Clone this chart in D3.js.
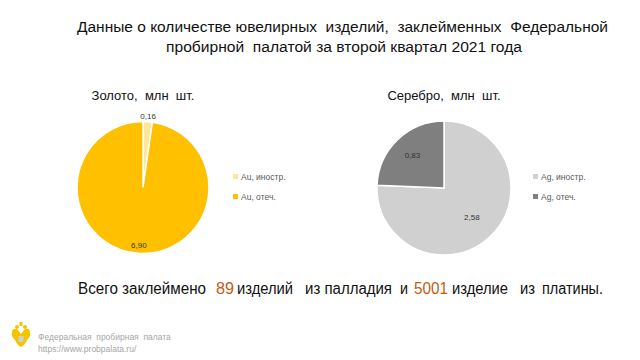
<!DOCTYPE html>
<html><head><meta charset="utf-8">
<script src="https://cdn.jsdelivr.net/npm/d3@7"></script>
<style>body{margin:0;background:#fff}svg{display:block}text{font-family:"Liberation Sans",Arial,sans-serif;white-space:pre}</style>
</head><body><svg id="c" width="640" height="360"></svg>
<script>
const titleLines = ["Данные о количестве ювелирных  изделий,  заклейменных  Федеральной", "пробирной  палатой за второй квартал 2021 года"];
const goldLabels = ["Au, иностр.", "Au, отеч."];
const goldValues = [0.16, 6.90];
const goldColors = ["#ffe699", "#ffc000"];
const silverLabels = ["Ag, иностр.", "Ag, отеч."];
const silverValues = [2.58, 0.83];
const silverColors = ["#d0d0d0", "#7f7f7f"];
const pieTitles = ["Золото,  млн  шт.", "Серебро,  млн  шт."];
const palladium = 89, platinum = 5001;
const summaryWords = ["Всего заклеймено", String(palladium), "изделий", "из палладия", "и", String(platinum), "изделие", "из", "платины."];

const svg = d3.select("#c");
svg.append("text").attr("x", 77).attr("y", 32).attr("font-size", 15.5).attr("fill", "#111")
  .attr("textLength", 531).attr("lengthAdjust", "spacingAndGlyphs").text(titleLines[0]);
svg.append("text").attr("x", 166).attr("y", 51.5).attr("font-size", 15.5).attr("fill", "#111")
  .attr("textLength", 356).attr("lengthAdjust", "spacingAndGlyphs").text(titleLines[1]);

const fmt = v => d3.format(".2f")(v).replace(".", ",");

function drawPie(cx, cy, r, values, colors, labels, title, labelPos, legendX) {
  svg.append("text").attr("x", cx).attr("y", 100).attr("text-anchor", "middle").attr("font-size", 13).attr("fill", "#111").text(title);
  const pie = d3.pie().sort(null)(values);
  const arc = d3.arc().innerRadius(0).outerRadius(r);
  const g = svg.append("g").attr("transform", `translate(${cx},${cy})`);
  g.selectAll("path").data(pie).join("path").attr("d", arc)
    .attr("fill", (d, i) => colors[i]).attr("stroke", "#fff").attr("stroke-width", 1.5);
  g.selectAll("text.v").data(pie).join("text").attr("class", "v")
    .attr("x", (d, i) => { const a = (d.startAngle + d.endAngle) / 2; return Math.sin(a) * r * labelPos[i]; })
    .attr("y", (d, i) => { const a = (d.startAngle + d.endAngle) / 2; return -Math.cos(a) * r * labelPos[i] + 3; })
    .attr("text-anchor", "middle").attr("font-size", 8).attr("fill", "#333").text(d => fmt(d.data));
  const lg = svg.append("g");
  labels.forEach((l, i) => {
    lg.append("rect").attr("x", legendX).attr("y", 174 + i * 20).attr("width", 5).attr("height", 5).attr("fill", colors[i]);
    lg.append("text").attr("x", legendX + 8).attr("y", 180 + i * 20).attr("font-size", 8.5).attr("fill", "#595959").text(l);
  });
}
drawPie(143, 187.5, 66, goldValues, goldColors, goldLabels, pieTitles[0], [1.08, 0.88], 233);
drawPie(444, 188, 67, silverValues, silverColors, silverLabels, pieTitles[1], [0.6, 0.68], 533);

// summary line: word groups placed along the reference line
const segX = [78, 216, 237, 305, 400, 414, 452, 520, 542];
const segW = [128, 18, 56, 87, 8, 34, 56, 15, 61];
const orange = new Set([1, 5]);
svg.append("g").selectAll("text").data(summaryWords).join("text")
  .attr("x", (d, i) => segX[i]).attr("y", 293.5).attr("font-size", 16)
  .attr("fill", (d, i) => orange.has(i) ? "#c55a11" : "#111")
  .attr("textLength", (d, i) => segW[i]).attr("lengthAdjust", "spacingAndGlyphs")
  .text(d => d);

// footer logo (stylized eagle)
const logo = svg.append("g").attr("transform", "translate(21,337)").attr("fill", "#f2c500");
logo.append("path").attr("d", "M-9,-6 Q-7,-10 -3,-7 L0,-3 L3,-7 Q7,-10 9,-6 Q10,0 6,3 Q4,8 0,10 Q-4,8 -6,3 Q-10,0 -9,-6Z");
logo.append("circle").attr("cx", -4).attr("cy", -10).attr("r", 2);
logo.append("circle").attr("cx", 4).attr("cy", -10).attr("r", 2);
logo.append("rect").attr("x", -1.5).attr("y", -15).attr("width", 3).attr("height", 4);
logo.append("rect").attr("x", -2.5).attr("y", -1).attr("width", 5).attr("height", 6).attr("fill", "#d0d0d0");
svg.append("text").attr("x", 38).attr("y", 340).attr("font-size", 8.5).attr("fill", "#a6a6a6").text("Федеральная  пробирная  палата");
svg.append("text").attr("x", 38).attr("y", 352).attr("font-size", 8.5).attr("fill", "#a6a6a6").text("https://www.probpalata.ru/");
</script></body></html>
